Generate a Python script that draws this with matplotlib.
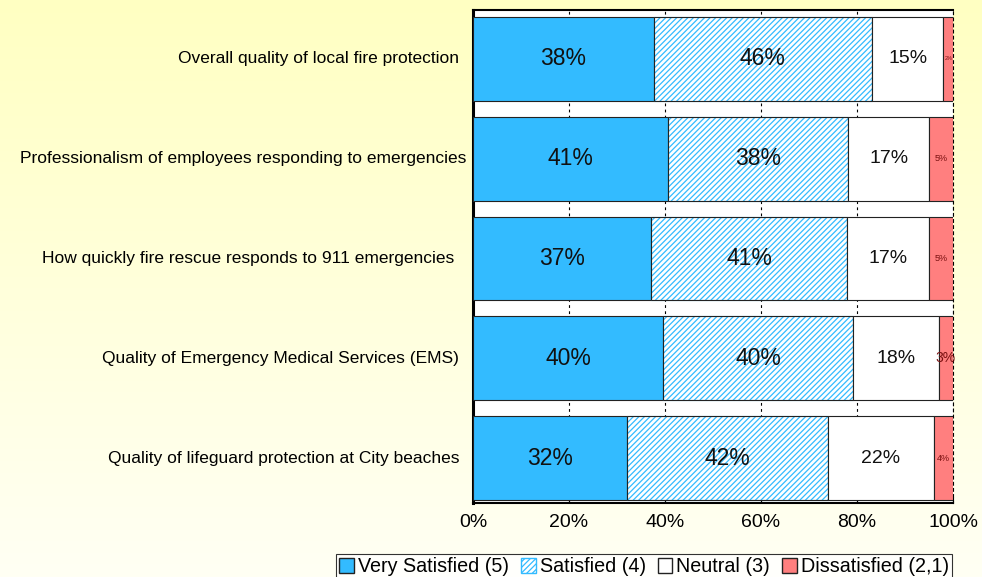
import numpy as np
import matplotlib.pyplot as plt
from matplotlib.patches import Patch
from matplotlib.colors import LinearSegmentedColormap
import matplotlib.transforms as mtransforms

plt.rcParams['font.family'] = ['Liberation Sans', 'DejaVu Sans']
plt.rcParams['hatch.linewidth'] = 0.9
plt.rcParams['hatch.color'] = "#33BBFF"

categories = [
    "Overall quality of local fire protection",
    "Professionalism of employees responding to emergencies",
    "How quickly fire rescue responds to 911 emergencies ",
    "Quality of Emergency Medical Services (EMS)",
    "Quality of lifeguard protection at City beaches",
]
very_satisfied = [38, 41, 37, 40, 32]
satisfied = [46, 38, 41, 40, 42]
neutral = [15, 17, 17, 18, 22]
dissatisfied = [2, 5, 5, 3, 4]
series_names = ["Very Satisfied (5)", "Satisfied (4)", "Neutral (3)", "Dissatisfied (2,1)"]

blue = "#33BBFF"
red = "#FF7F7F"
# font size of the small red labels (as in the original)
small_sizes = [4, 6.5, 6.5, 10, 6.5]

fig = plt.figure(figsize=(9.82, 5.77), dpi=100)

# yellow gradient background
bg = fig.add_axes([0, 0, 1, 1], zorder=-10)
grad = np.linspace(0, 1, 256).reshape(-1, 1)
cmap = LinearSegmentedColormap.from_list("bg", ["#FFFFC2", "#FFFFF4"])
bg.imshow(grad, aspect="auto", cmap=cmap, extent=[0, 1, 0, 1])
bg.axis("off")

ax = fig.add_axes([473 / 982, 1 - 503 / 577, 480 / 982, 493 / 577])
ax.set_facecolor("white")

data = np.array([very_satisfied, satisfied, neutral, dissatisfied], dtype=float)
pct = data / data.sum(axis=0) * 100
y = np.arange(len(categories))
left = np.zeros(len(categories))
h = 0.84

styles = [
    dict(color=blue, edgecolor="#222222"),
    dict(facecolor="white", edgecolor=blue, hatch="//////"),
    dict(color="white", edgecolor="#222222"),
    dict(color=red, edgecolor="#222222"),
]

for i in range(4):
    ax.barh(y, pct[i], left=left, height=h, zorder=3, linewidth=0.8, **styles[i])
    if i == 1:
        # dark outline over the hatched bar
        ax.barh(y, pct[i], left=left, height=h, zorder=3, facecolor="none",
                edgecolor="#222222", linewidth=0.8)
    for j in range(len(categories)):
        cx = left[j] + pct[i][j] / 2
        if i < 2:
            ax.text(cx, y[j], f"{int(data[i][j])}%", ha="center", va="center",
                    fontsize=16.5, color="#111111", zorder=5)
        elif i == 2:
            ax.text(cx, y[j], f"{int(data[i][j])}%", ha="center", va="center",
                    fontsize=14, color="#111111", zorder=5)
        else:
            ax.text(cx, y[j], f"{int(data[i][j])}%", ha="center", va="center",
                    fontsize=small_sizes[j], color="#7A1010", zorder=5)
    left += pct[i]

ax.set_xlim(0, 100)
ax.set_ylim(4.45, -0.49)
ax.set_yticks([])
lab_tr = mtransforms.blended_transform_factory(ax.transAxes, ax.transData)
for j, name in enumerate(categories):
    shift = 7 if j == 1 else 0
    ax.text((-14 + shift) / 480, y[j], name, transform=lab_tr, ha="right", va="center",
            fontsize=12.5, color="black")

ax.set_xticks([0, 20, 40, 60, 80, 100])
ax.set_xticklabels(["0%", "20%", "40%", "60%", "80%", "100%"], fontsize=14)
ax.tick_params(axis="x", direction="in", length=4, pad=8)
ax.grid(axis="x", linestyle=(0, (2.5, 3)), color="black", linewidth=0.8, zorder=0)

ax.spines["left"].set_linewidth(2.2)
ax.spines["bottom"].set_linewidth(1.5)
ax.spines["top"].set_linewidth(1.5)
ax.spines["right"].set_linestyle((0, (2.5, 3)))
ax.spines["right"].set_linewidth(0.8)

handles = [
    Patch(facecolor=blue, edgecolor="#222222"),
    Patch(facecolor="white", edgecolor=blue, hatch="//////"),
    Patch(facecolor="white", edgecolor="#222222"),
    Patch(facecolor=red, edgecolor="#222222"),
]
leg = fig.legend(handles, series_names, loc="lower center",
                 bbox_to_anchor=(644 / 982, -0.004),
                 ncol=4, fontsize=14.2, frameon=True, fancybox=False,
                 handlelength=0.75, handleheight=0.75, handletextpad=0.2,
                 columnspacing=0.6, borderpad=0.15, borderaxespad=0)
leg.get_frame().set_edgecolor("black")
leg.get_frame().set_linewidth(0.8)

fig.savefig("out.png", dpi=100)
